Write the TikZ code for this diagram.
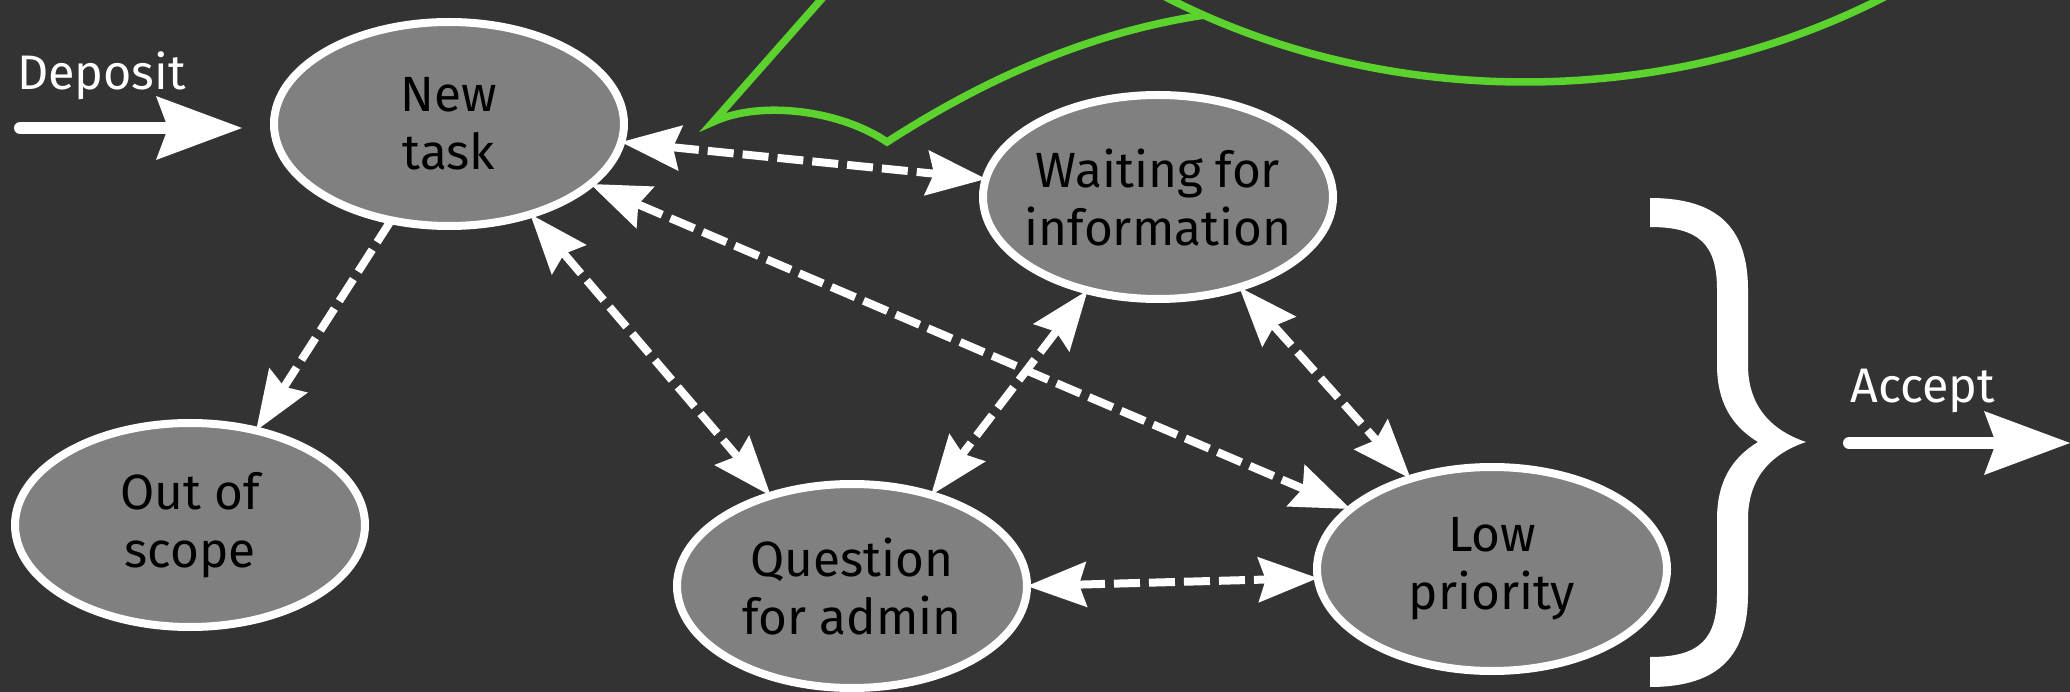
\documentclass[tikz,border=0pt]{standalone}
\usepackage{fontspec}
\setmainfont{Fira Sans}
\usetikzlibrary{shapes.geometric,arrows.meta}
\definecolor{bg}{HTML}{333333}
\definecolor{nodefill}{HTML}{808080}
\definecolor{callout}{RGB}{91,210,45}
\begin{document}
\begin{tikzpicture}[x=1pt,y=-1pt,
  state/.style={ellipse, draw=white, fill=nodefill, line width=8pt,
    minimum width=350pt, minimum height=204pt, inner sep=0pt, outer sep=0pt},
  statetext/.style={align=center, font=\fontsize{49.5}{58}\selectfont, text=black, inner sep=0pt},
  flowtext/.style={font=\fontsize{48.5}{56}\selectfont, text=white, inner sep=0pt, anchor=base west},
  link/.style={draw=white, line width=8pt, dash pattern=on 26pt off 9pt,
    >={Stealth[length=60pt,width=46pt,inset=8pt,line width=0pt]}},
  flow/.style={draw=white, line width=12pt, line cap=round,
    -{Stealth[length=86pt,width=64pt,inset=12pt,line width=0pt]}},
  calloutline/.style={draw=callout, line width=7.5pt, line join=miter}
]
\useasboundingbox (0,0) rectangle (2070,692);
\fill[bg] (0,0) rectangle (2070,692);

% green callout
\begin{scope}
  \clip (0,0) rectangle (2070,692);
  \draw[calloutline] (1525,-518) ellipse [x radius=700, y radius=600];
  \draw[calloutline] (909,-100) -- (713,122) .. controls (760,100) and (840,110) .. (887,142)
        .. controls (960,95) and (1070,35) .. (1205,15);
\end{scope}

% states
\node[state] (nt) at (449,124) {};
\node[state] (wi) at (1158,197) {};
\node[state] (os) at (190,525) {};
\node[state] (qa) at (852,586) {};
\node[state] (lp) at (1492,569) {};

\node[statetext] (nt-t) at (nt.center) {New\\task};
\node[statetext] (wi-t) at (wi.center) {Waiting for\\information};
\node[statetext] (os-t) at (os.center) {Out of\\scope};
\node[statetext] (qa-t) at (qa.center) {Question\\for admin};
\node[statetext] (lp-t) at (lp.center) {Low\\priority};

% connectors
\draw[link,<->] (nt.-6.3) -- (wi.174.7);
\draw[link,->] (nt.-121.5) -- (os.55.7);
\draw[link,<->] (nt.-48.6) -- (qa.132.7);
\draw[link,<->] (nt.-23.2) -- (lp.157.3);
\draw[link,<->] (wi.-127.8) -- (qa.49.6);
\draw[link,<->] (wi.-48.3) -- (lp.132.1);
\draw[link,<->] (qa.0.3) -- (lp.-177.9);

% deposit
\coordinate (dep-a) at (20,128);
\coordinate (dep-b) at (242,128);
\draw[flow] (dep-a) -- (dep-b);
\node[flowtext] (dep-t) at (17,90) {Deposit};

% brace
\fill[white] (1650,198) .. controls (1720,198) and (1748,230) .. (1748,290) -- (1748,365)
  .. controls (1748,405) and (1770,430) .. (1806,442)
  .. controls (1770,454) and (1748,479) .. (1748,519) -- (1748,594)
  .. controls (1748,654) and (1720,687) .. (1650,687) -- (1650,657)
  .. controls (1700,657) and (1717,639) .. (1717,594) -- (1717,519)
  .. controls (1717,484) and (1730,459) .. (1758,442)
  .. controls (1730,425) and (1717,400) .. (1717,365) -- (1717,290)
  .. controls (1717,245) and (1700,227) .. (1650,227) -- cycle;

% accept
\coordinate (acc-a) at (1849,443);
\coordinate (acc-b) at (2070,443);
\draw[flow] (acc-a) -- (acc-b);
\node[flowtext] (acc-t) at (1850,403) {Accept};
\end{tikzpicture}
\end{document}
